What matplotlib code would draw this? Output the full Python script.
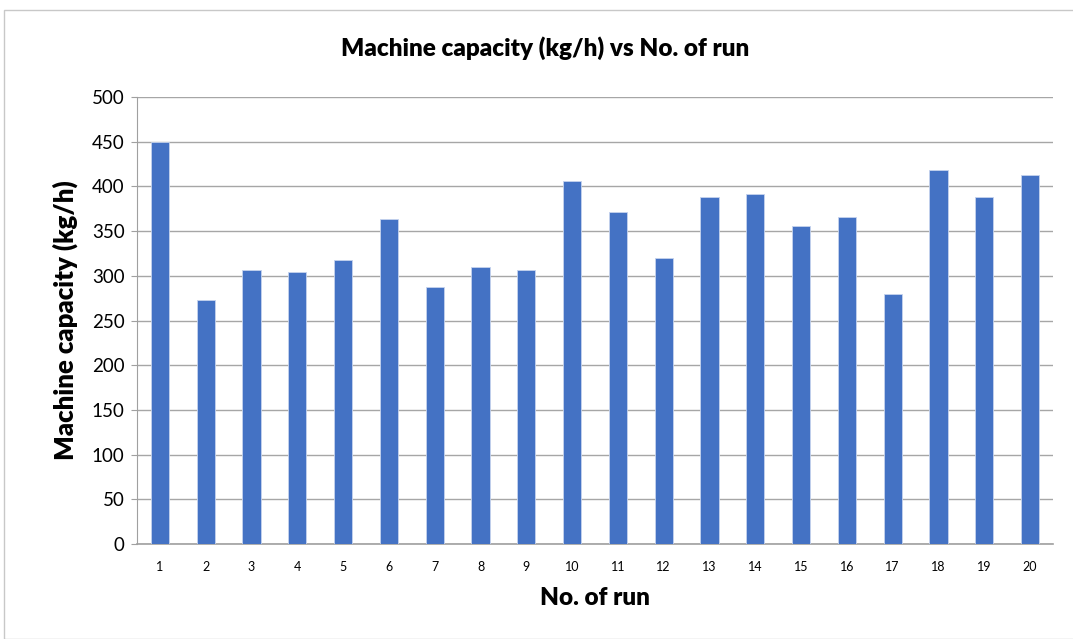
import matplotlib
matplotlib.use("Agg")
import matplotlib.pyplot as plt
from matplotlib.patches import Rectangle

runs = [str(i) for i in range(1, 21)]
capacity = [450, 273, 306, 304, 318, 363, 288, 310, 306, 406,
            371, 320, 388, 392, 356, 366, 280, 418, 388, 413]
yticks = [0, 50, 100, 150, 200, 250, 300, 350, 400, 450, 500]

plt.rcParams['font.family'] = ['Lato', 'DejaVu Sans']

W, H = 1073, 639
fig = plt.figure(figsize=(W / 100, H / 100), dpi=100)
fig.patches.append(Rectangle((4 / W, 0), 1.2, (H - 10) / H, transform=fig.transFigure,
                             fill=False, edgecolor='#c8c8c8', linewidth=1))

ax = fig.add_axes([137 / W, 1 - 544 / H, (1053 - 137) / W, (544 - 97) / H])
x = list(range(len(runs)))
ax.bar(x, capacity, width=0.4, color='#4472C4', edgecolor='#c5d3ee', linewidth=0.6, zorder=3)
ax.set_xlim(-0.5, len(runs) - 0.5)
ax.set_ylim(0, 500)
ax.set_yticks(yticks)
ax.set_yticklabels([str(v) for v in yticks], fontsize=13.5)
ax.set_xticks(x)
ax.set_xticklabels(runs, fontsize=9)
ax.tick_params(axis='x', length=0, pad=12)
ax.tick_params(axis='y', length=4, color='#a0a0a0', pad=5)
ax.grid(axis='y', color='#a6a6a6', linewidth=1, zorder=0)
for s in ['top', 'right']:
    ax.spines[s].set_visible(False)
ax.spines['left'].set_color('#a0a0a0')
ax.spines['bottom'].set_color('#a0a0a0')
ax.spines['bottom'].set_linewidth(1.2)

ax.set_ylabel('Machine capacity (kg/h)', fontsize=18.5, fontweight='heavy', labelpad=10)
ax.set_xlabel('No. of run', fontsize=17.5, fontweight='heavy', labelpad=10)
fig.text(545 / W, 1 - 48 / H, 'Machine capacity (kg/h) vs No. of run', ha='center', va='center',
         fontsize=17.5, fontweight='heavy')

fig.savefig('out.png', dpi=100)
